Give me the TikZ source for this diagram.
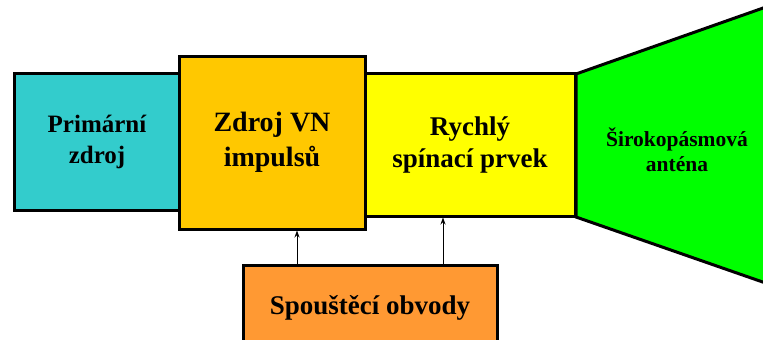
\documentclass[tikz,border=0pt]{standalone}
\usepackage{fontspec}
\setmainfont{Liberation Serif}[BoldFont={Liberation Serif Bold}]
\newfontfamily\tnrb{Liberation Serif Bold}
\usetikzlibrary{arrows.meta}
\definecolor{cteal}{HTML}{33CCCC}
\definecolor{cgold}{HTML}{FFC800}
\definecolor{cyel}{HTML}{FFFF00}
\definecolor{cgreen}{HTML}{00FF00}
\definecolor{corange}{HTML}{FF9933}
\tikzset{
  blk/.style={draw=black, line width=3pt, rectangle, inner sep=0pt, align=center},
  arr/.style={line width=0.9pt, -{Stealth[length=7pt,width=5pt]}},
}
\begin{document}
\begin{tikzpicture}[x=1pt,y=-1pt]
\useasboundingbox (0,0) rectangle (763,340);
\clip (0,0) rectangle (763,340);
\node[blk, fill=cteal, minimum width=166pt, minimum height=137pt,
  font=\tnrb\fontsize{25}{31}\selectfont] (prim) at (97,141.5) {Primární\\zdroj};
\node[blk, fill=cgold, minimum width=186pt, minimum height=173pt,
  font=\tnrb\fontsize{28}{35}\selectfont] (zdroj) at (272,142.5) {Zdroj VN\\impulsů};
\node[blk, fill=cyel, minimum width=210pt, minimum height=143pt,
  font=\tnrb\fontsize{27}{32}\selectfont] (spin) at (470,144.5) {Rychlý\\spínací prvek};
\draw[line width=3pt, line join=miter, fill=cgreen]
  (576,74) -- (800,-5) -- (800,295) -- (576,217) -- cycle;
\node[align=center, font=\tnrb\fontsize{21.5}{25}\selectfont] (ant) at (677,150) {Širokopásmová\\anténa};
\node[blk, fill=corange, minimum width=254pt, minimum height=86pt,
  font=\tnrb\fontsize{27}{32}\selectfont] (trig) at (370,308) {Spouštěcí obvody};
\coordinate (a1) at (297,0);
\coordinate (a2) at (443,0);
\draw[arr] (trig.north -| a1) -- (zdroj.south -| a1);
\draw[arr] (trig.north -| a2) -- (spin.south -| a2);
\end{tikzpicture}
\end{document}
